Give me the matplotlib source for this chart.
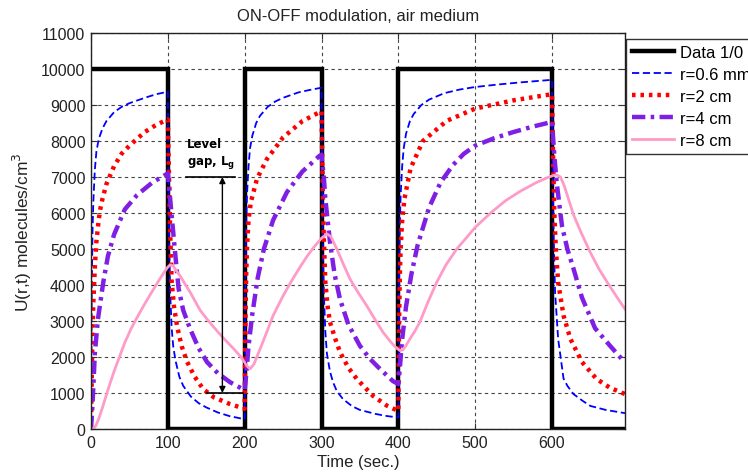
import matplotlib
matplotlib.use("Agg")
import matplotlib.pyplot as plt
from matplotlib.ticker import MultipleLocator

# ---------------- data ----------------
pulse_t = [0, 100, 100, 200, 200, 300, 300, 400, 400, 600, 600, 695]
pulse_u = [10000, 10000, 0, 0, 10000, 10000, 0, 0, 10000, 10000, 0, 0]

blue_t = [0, 1, 2, 3, 5, 7, 10, 15, 20, 30, 40, 50, 70, 85, 100,
          101, 102, 103, 105, 107, 110, 115, 120, 130, 140, 150, 165, 180, 200,
          201, 202, 203, 205, 207, 210, 215, 220, 230, 240, 250, 270, 285, 300,
          301, 302, 303, 305, 307, 311, 315, 320, 328, 340, 350, 370, 385, 400,
          401, 402, 403, 405, 407, 410, 415, 420, 430, 440, 460, 480, 500, 530, 560, 600,
          601, 602, 604, 608, 611, 615, 620, 628, 640, 650, 670, 695]
blue_u = [0, 4000, 5500, 6300, 7200, 7700, 8050, 8350, 8550, 8800, 8950, 9050, 9200, 9300, 9370,
          6500, 4800, 3800, 2800, 2300, 1900, 1450, 1200, 900, 720, 600, 460, 360, 270,
          4200, 5700, 6500, 7300, 7800, 8150, 8500, 8700, 8950, 9100, 9200, 9350, 9420, 9480,
          6500, 4800, 3800, 2700, 2100, 1600, 1300, 1050, 830, 630, 530, 420, 360, 320,
          4200, 5700, 6500, 7300, 7800, 8200, 8550, 8750, 9000, 9150, 9330, 9430, 9500, 9570, 9630, 9700,
          7000, 5500, 3800, 2500, 2030, 1400, 1200, 970, 780, 640, 530, 440]

red_t = [0, 1, 2, 3, 5, 7, 10, 12, 15, 20, 30, 40, 50, 70, 85, 100,
         101, 102, 103, 105, 108, 112, 118, 125, 135, 146, 160, 180, 200,
         201, 202, 203, 205, 208, 216, 229, 250, 275, 300,
         301, 302, 303, 305, 308, 311, 318, 324, 335, 346, 367, 385, 400,
         401, 402, 403, 405, 408, 416, 432, 463, 500, 550, 600,
         601, 602, 603, 605, 608, 615, 624, 639, 658, 675, 695]
red_u = [0, 1500, 2700, 3500, 4500, 5200, 5800, 6100, 6400, 6800, 7300, 7650, 7870, 8250, 8450, 8600,
         7500, 6500, 5500, 4100, 3400, 2860, 2300, 1870, 1450, 1110, 880, 700, 560,
         3000, 4300, 5000, 5800, 6300, 6950, 7500, 8100, 8550, 8830,
         7500, 6300, 5300, 4080, 3400, 2970, 2500, 2140, 1700, 1390, 920, 650, 500,
         3000, 4300, 5000, 5800, 6400, 7250, 8000, 8560, 8900, 9130, 9300,
         8000, 7000, 6000, 5000, 4070, 3150, 2500, 1860, 1390, 1150, 970]

purple_t = [0, 2, 5, 9, 16, 22, 30, 44, 60, 80, 100,
            103, 106, 109, 114, 120, 129, 140, 151, 165, 181, 200,
            202, 205, 210, 217, 225, 237, 255, 275, 297, 300,
            303, 305, 309, 311, 317, 324, 335, 350, 363, 376, 393, 400,
            402, 405, 410, 417, 425, 440, 455, 471, 485, 500, 525, 550, 575, 600,
            603, 606, 613, 620, 628, 639, 656, 676, 691, 695]
purple_u = [0, 700, 2100, 3050, 4080, 4800, 5400, 6100, 6500, 6850, 7100,
            6400, 5700, 5000, 3900, 3300, 2780, 2250, 1860, 1550, 1300, 1080,
            1500, 2300, 3200, 4200, 5000, 5800, 6580, 7150, 7580, 7620,
            7000, 6390, 5600, 5200, 4300, 3610, 2900, 2310, 1950, 1670, 1330, 1250,
            1700, 2500, 3400, 4300, 5100, 6150, 6850, 7330, 7640, 7870, 8080, 8250, 8400, 8530,
            7600, 6860, 5640, 5000, 4450, 3650, 2800, 2300, 1940, 1880]

pink_t = [0, 3, 6, 10, 15, 20, 25, 30, 37, 44, 52, 60, 70, 79, 87, 95, 100, 103, 107, 111, 116,
          122, 129, 142, 151, 165, 177, 186, 194, 200, 203,
          207, 212, 220, 228, 237, 250, 262, 273, 282, 290, 300, 307, 312, 320, 328, 337, 348,
          359, 370, 380, 390, 397, 402, 406, 410, 415, 421, 428, 438, 450, 462, 476, 500, 520,
          540, 560, 580, 595, 603, 607, 611, 616, 622, 628, 638, 650, 661, 672, 684, 695]
pink_u = [0, 10, 80, 280, 600, 950, 1280, 1600, 2000, 2400, 2780, 3100, 3480, 3800, 4080, 4350, 4500, 4560, 4530, 4400, 4250,
          4040, 3800, 3300, 3050, 2700, 2420, 2220, 2030, 1850, 1750,
          1670, 1800, 2220, 2650, 3150, 3700, 4150, 4530, 4820, 5050, 5300, 5420, 5350, 5000, 4600, 4170, 3780,
          3420, 3030, 2690, 2420, 2260, 2180, 2200, 2320, 2500, 2700, 2970, 3500, 4080, 4560, 5000, 5600, 6000,
          6350, 6620, 6850, 6990, 7050, 7050, 7000, 6750, 6350, 5950, 5450, 4900, 4450, 4070, 3680, 3330]

labels = ["Data 1/0", "r=0.6 mm", "r=2 cm", "r=4 cm", "r=8 cm"]
x_ticks = [0, 100, 200, 300, 400, 500, 600]

# annotation ("Level gap") positions in data units
gap_top, gap_bottom, gap_x = 7000, 1000, 171

# ---------------- figure ----------------
plt.rcParams['font.family'] = ['Liberation Sans', 'DejaVu Sans']
fig = plt.figure(figsize=(7.48, 4.77), dpi=100)
ax = fig.add_axes([91/748, 47/477, 534/748, 396/477])

l0, = ax.plot(pulse_t, pulse_u, color='black', lw=3.2, solid_joinstyle='miter')
l1, = ax.plot(blue_t, blue_u, color='#0000FF', lw=1.3, linestyle=(0, (4, 2)))
l2, = ax.plot(red_t, red_u, color='#FF0000', lw=3.2, linestyle=(0, (0.8, 1.1)), dash_capstyle='butt')
l3, = ax.plot(purple_t, purple_u, color='#7F1FE6', lw=3.2, linestyle=(0, (3, 1.2, 0.8, 1.2)))
l4, = ax.plot(pink_t, pink_u, color='#FF9BC8', lw=2.0)

ax.set_xlim(0, 695)
ax.set_ylim(0, 11000)
ax.set_xticks(x_ticks)
ax.yaxis.set_major_locator(MultipleLocator(1000))
ax.grid(True, color='#444444', linestyle=(0, (3, 3)), lw=0.8)
ax.tick_params(direction='in', length=4, top=True, right=True, labelsize=11.5,
               labelcolor='#222222', color='#333333', pad=4)
for s in ax.spines.values():
    s.set_linewidth(1.0)
    s.set_color('#222222')

ax.set_title("ON-OFF modulation, air medium", fontsize=12, color='#222222', pad=9)
ax.set_xlabel("Time (sec.)", fontsize=12, color='#222222', labelpad=3)
ax.set_ylabel("U(r,t) molecules/cm$^3$", fontsize=12.5, color='#222222', labelpad=5)

# level gap annotation
ax.plot([124, 187], [gap_top, gap_top], color='black', lw=1.2)
ax.plot([151, 198], [gap_bottom, gap_bottom], color='black', lw=1.2)
ax.annotate('', xy=(gap_x, gap_top), xytext=(gap_x, gap_bottom),
            arrowprops=dict(arrowstyle='<|-|>', color='black', lw=1.0,
                            mutation_scale=9, shrinkA=0, shrinkB=0))
ax.text(125, 7920, "Level", fontsize=8.5, fontweight='bold', family='DejaVu Sans',
        va='center', ha='left')
ax.text(125, 7430, r"gap, L$_\mathbf{g}$", fontsize=8.5, fontweight='bold', family='DejaVu Sans',
        va='center', ha='left')

leg = fig.legend([l0, l1, l2, l3, l4], labels, loc='upper left',
                 bbox_to_anchor=(626/748, 1 - 40/477), fontsize=12,
                 frameon=True, fancybox=False, edgecolor='black',
                 handlelength=2.5, labelspacing=0.42, borderpad=0.35,
                 handletextpad=0.4, borderaxespad=0)
leg.get_frame().set_linewidth(1.0)

fig.savefig("out.png", dpi=100)
